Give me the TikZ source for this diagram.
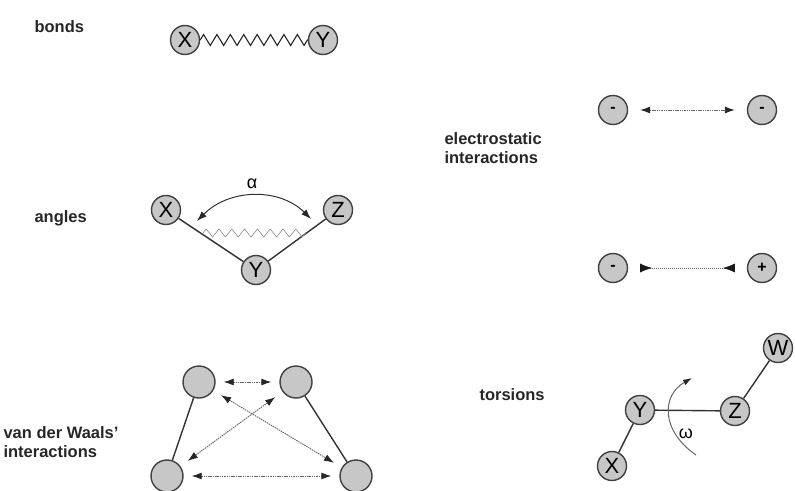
\documentclass[tikz,border=0pt]{standalone}
\usepackage{fontspec}
\setmainfont{Liberation Sans}
\usetikzlibrary{arrows.meta,decorations.pathmorphing}
\begin{document}
\begin{tikzpicture}[x=1pt,y=-1pt,
  atom/.style={circle,draw=black!75,line width=1.4pt,fill=black!22,
    minimum size=29pt,inner sep=0pt,font=\fontsize{22}{22}\selectfont},
  bigatom/.style={atom,minimum size=32pt},
  chg/.style={atom,font=\fontsize{16}{16}\selectfont\bfseries},
  lbl/.style={font=\fontsize{16.5}{19}\selectfont\bfseries,align=left,text=black!85},
  bond/.style={line width=1.4pt,black!80},
  spring/.style={decorate,decoration={zigzag,segment length=13.4pt,amplitude=5.5pt,pre length=0pt,post length=0pt},line width=1.1pt,black!85},
  weakspring/.style={decorate,decoration={zigzag,segment length=12.8pt,amplitude=4pt},line width=0.6pt,black!45},
  nb/.style={black!60,line width=0.9pt,dash pattern=on 1.5pt off 0.8pt},
  tip/.style={-{Latex[length=9pt,width=6pt,color=black!85]}},
  tips/.style={{Latex[length=10pt,width=7pt,color=black!85]}-{Latex[length=10pt,width=7pt,color=black!85]}}
]
\useasboundingbox (0,0) rectangle (795,490);

% bonds
\node[lbl,anchor=west] (lbonds) at (31,27) {bonds};
\node[atom] (bx) at (185,40) {X};
\node[atom] (by) at (323,40) {Y};
\draw[spring] (bx.east) -- (by.west);

% angles
\node[lbl,anchor=west] (langles) at (31,218) {angles};
\node[atom] (ax) at (166,210) {X};
\node[atom] (az) at (338,210) {Z};
\node[atom] (ay) at (256,270) {Y};
\draw[bond] (ax) -- (ay) -- (az);
\coordinate (aL) at (197,221);
\coordinate (aR) at (311,219);
\draw[tips,line width=1pt,black!80] (aL) .. controls (230,188) and (280,188) .. (aR);
\node[font=\fontsize{18}{18}\selectfont] (alpha) at (252,184) {α};
\coordinate (zL) at (203,233);
\coordinate (zR) at (306,233);
\draw[weakspring] (zL) -- (zR);

% van der Waals
\node[lbl,anchor=west] (lvdw) at (0,442) {van der Waals'\\interactions};
\node[bigatom] (v1) at (199,382) {};
\node[bigatom] (v2) at (296,382) {};
\node[bigatom] (v3) at (167,476) {};
\node[bigatom] (v4) at (356,476) {};
\draw[bond] (v1) -- (v3);
\draw[bond] (v2) -- (v4);
\draw[nb,tips,shorten <=8pt,shorten >=8pt] (v1) -- (v2);
\draw[nb,tips,shorten <=8pt,shorten >=8pt] (v3) -- (v4);
\draw[nb,tips,shorten <=9pt,shorten >=9pt] (v1) -- (v4);
\draw[nb,tips,shorten <=9pt,shorten >=9pt] (v2) -- (v3);

% electrostatic
\node[lbl,anchor=west] (lel) at (441,148) {electrostatic\\interactions};
\node[chg] (e1) at (613,110) {-};
\node[chg] (e2) at (762,110) {-};
\draw[nb,tips,shorten <=12pt,shorten >=12pt] (e1) -- (e2);
\node[chg] (e3) at (613,268) {-};
\node[chg] (e4) at (762,268) {+};
\draw[black!60,line width=0.9pt,dash pattern=on 1.5pt off 0.5pt,
  {Latex[reversed,length=12pt,width=9pt,color=black!90]}-{Latex[reversed,length=12pt,width=9pt,color=black!90]},
  shorten <=12pt,shorten >=12pt] (e3) -- (e4);

% torsions
\node[lbl,anchor=west] (ltor) at (476,395) {torsions};
\node[atom] (ty) at (640,410) {Y};
\node[atom] (tz) at (735,411) {Z};
\node[atom] (tw) at (778,348) {W};
\node[atom] (tx) at (612,466) {X};
\draw[bond] (tx) -- (ty) -- (tz) -- (tw);
\coordinate (wS) at (696,455);
\coordinate (wE) at (692,378);
\draw[tip,black!60,line width=1pt] (wS) .. controls (660,430) and (662,395) .. (wE);
\node[font=\fontsize{18}{18}\selectfont] (omega) at (686,434) {ω};
\end{tikzpicture}
\end{document}
